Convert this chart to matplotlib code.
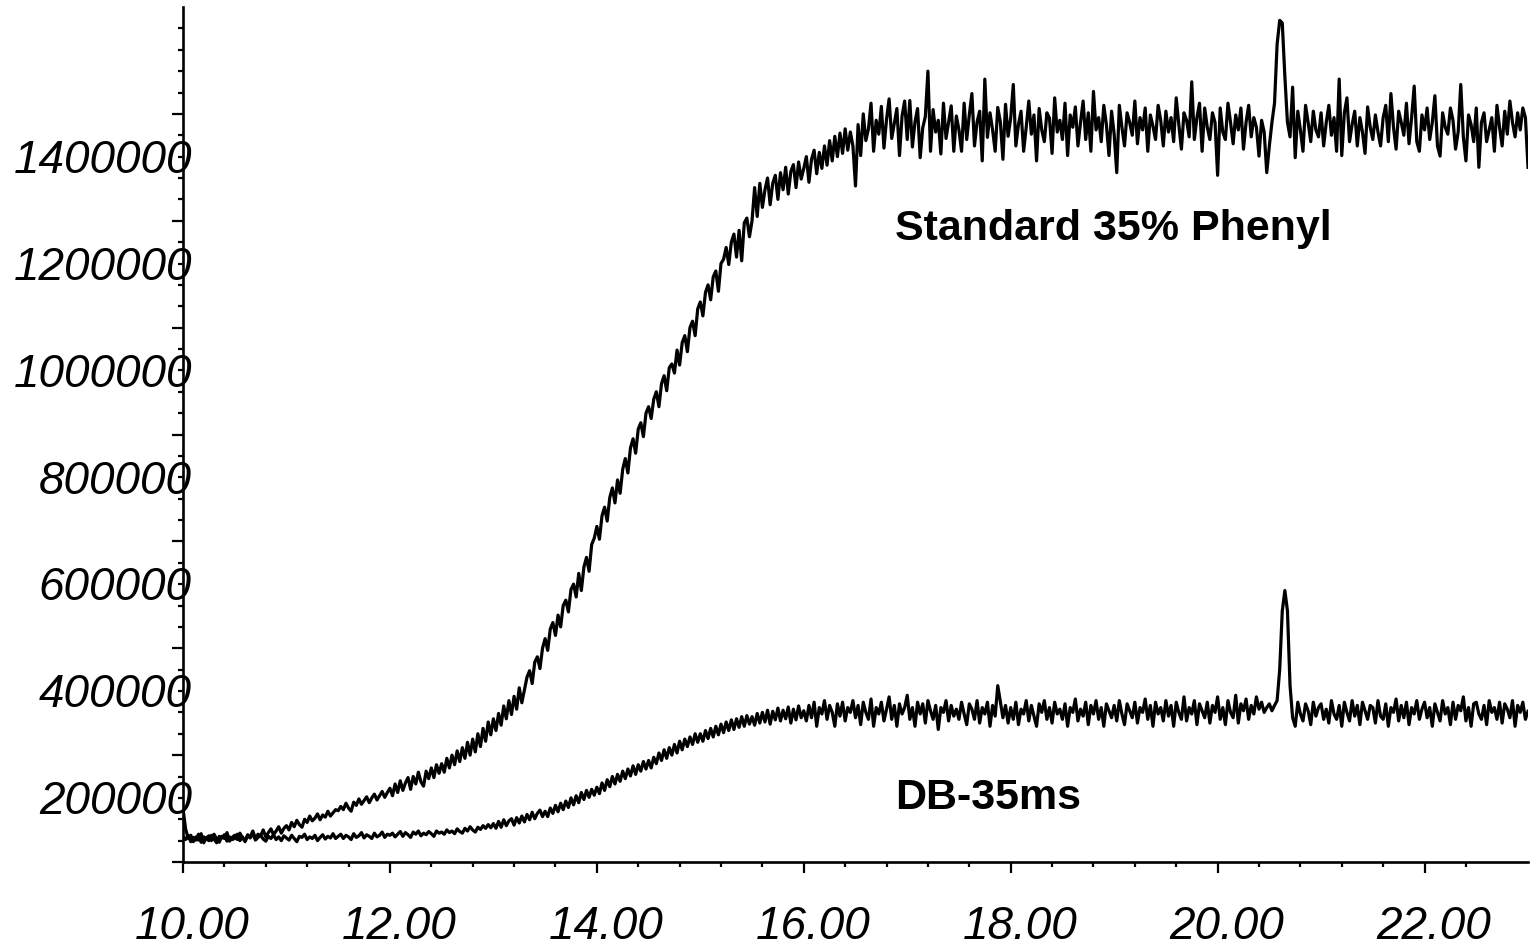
import numpy as np
import matplotlib
matplotlib.use("Agg")
import matplotlib.pyplot as plt
from matplotlib.transforms import ScaledTranslation

# === DATA (abundance in thousands of counts, one sample every 0.025 min from 10.00) ===
T_START = 10.0
T_STEP = 0.025

# rows of 20 samples = 0.5 min each
standard_35_phenyl_k = [
    100, 62, 44, 50, 38, 47, 41, 53, 36, 45, 49, 40, 52, 43, 37, 48, 44, 55, 39, 46,
    50, 42, 54, 45, 40, 51, 47, 58, 44, 52, 49, 60, 47, 55, 62, 51, 58, 66, 54, 63,
    68, 60, 74, 66, 78, 70, 65, 80, 74, 86, 77, 82, 90, 79, 88, 84, 95, 86, 92, 98,
    96, 104, 98, 110, 101, 95, 112, 106, 118, 108, 115, 122, 111, 120, 127, 116, 124, 132, 121, 130,
    138, 124, 146, 130, 152, 134, 148, 158, 136, 160, 146, 168, 150, 142, 170, 156, 176, 158, 182, 166,
    184, 168, 194, 176, 200, 182, 208, 188, 214, 194, 224, 200, 230, 206, 240, 216, 250, 226, 262, 238,
    268, 246, 278, 256, 292, 268, 302, 276, 310, 286, 326, 298, 322, 346, 358, 334, 374, 384, 362, 400,
    418, 396, 436, 448, 424, 462, 440, 480, 490, 468, 510, 520, 496, 540, 508, 552, 570, 544, 594, 606,
    628, 604, 648, 664, 638, 682, 700, 672, 715, 690, 735, 755, 728, 775, 792, 765, 810, 822, 796, 840,
    852, 830, 866, 880, 852, 895, 910, 882, 925, 932, 915, 958, 930, 972, 985, 955, 1000, 1012, 985, 1035,
    1048, 1022, 1066, 1080, 1052, 1095, 1106, 1068, 1120, 1128, 1150, 1118, 1160, 1175, 1132, 1182, 1125, 1196, 1205, 1170,
    1200, 1262, 1208, 1270, 1225, 1258, 1280, 1230, 1270, 1285, 1240, 1290, 1258, 1300, 1250, 1292, 1305, 1262, 1310, 1278,
    1298, 1320, 1272, 1315, 1332, 1288, 1328, 1298, 1340, 1304, 1350, 1312, 1358, 1320, 1364, 1326, 1372, 1332, 1366, 1340,
    1265, 1380, 1322, 1400, 1350, 1372, 1420, 1330, 1388, 1362, 1414, 1336, 1390, 1428, 1354, 1382, 1410, 1322, 1396, 1424,
    1352, 1425, 1338, 1385, 1410, 1318, 1374, 1395, 1480, 1330, 1408, 1366, 1388, 1325, 1420, 1354, 1384, 1415, 1330, 1396,
    1370, 1330, 1420, 1352, 1398, 1438, 1340, 1385, 1405, 1312, 1465, 1356, 1402, 1370, 1330, 1412, 1385, 1315, 1418, 1358,
    1392, 1455, 1340, 1380, 1405, 1330, 1375, 1424, 1362, 1398, 1312, 1410, 1370, 1348, 1402, 1392, 1326, 1430, 1366, 1388,
    1352, 1420, 1322, 1398, 1375, 1413, 1340, 1384, 1424, 1352, 1402, 1330, 1442, 1370, 1393, 1348, 1416, 1380, 1322, 1405,
    1362, 1290, 1416, 1375, 1340, 1402, 1384, 1360, 1424, 1344, 1393, 1370, 1411, 1330, 1398, 1377, 1352, 1416, 1388, 1340,
    1405, 1366, 1393, 1348, 1430, 1380, 1334, 1402, 1388, 1357, 1460, 1352, 1393, 1420, 1330, 1411, 1375, 1352, 1402, 1384,
    1285, 1411, 1366, 1352, 1420, 1384, 1344, 1398, 1370, 1411, 1334, 1384, 1416, 1357, 1393, 1375, 1321, 1388, 1366, 1290,
    1340, 1384, 1420, 1530, 1575, 1570, 1470, 1384, 1357, 1450, 1318, 1405, 1370, 1330, 1416, 1384, 1348, 1405, 1370, 1357,
    1402, 1340, 1384, 1416, 1360, 1393, 1330, 1465, 1322, 1402, 1430, 1348, 1380, 1405, 1340, 1393, 1366, 1326, 1413, 1375,
    1352, 1398, 1366, 1340, 1393, 1416, 1348, 1438, 1375, 1334, 1405, 1384, 1360, 1420, 1344, 1393, 1452, 1348, 1330, 1398,
    1370, 1411, 1352, 1384, 1434, 1340, 1321, 1402, 1375, 1362, 1411, 1388, 1334, 1366, 1455, 1357, 1312, 1398, 1380, 1348,
    1411, 1300, 1384, 1402, 1348, 1370, 1393, 1330, 1416, 1375, 1340, 1405, 1362, 1424, 1384, 1357, 1402, 1370, 1411, 1393,
    1300,
]

db_35ms_k = [
    48, 42, 50, 38, 46, 41, 52, 37, 47, 44, 40, 50, 43, 36, 48, 45, 51, 39, 47, 42,
    44, 52, 40, 47, 38, 49, 45, 53, 41, 46, 50, 43, 39, 48, 44, 51, 42, 47, 40, 49,
    45, 41, 50, 44, 38, 48, 46, 52, 42, 47, 44, 50, 40, 46, 51, 43, 48, 45, 53, 44,
    48, 52, 44, 50, 47, 42, 53, 46, 49, 55, 45, 51, 48, 44, 54, 47, 50, 56, 46, 52,
    50, 54, 47, 52, 57, 48, 55, 51, 46, 56, 52, 58, 49, 54, 51, 57, 53, 48, 58, 54,
    56, 52, 60, 55, 58, 53, 62, 57, 54, 63, 58, 66, 60, 56, 65, 61, 68, 63, 70, 64,
    72, 63, 76, 65, 79, 68, 77, 81, 69, 83, 73, 86, 75, 89, 79, 93, 81, 91, 97, 85,
    95, 85, 101, 91, 106, 94, 110, 98, 114, 102, 120, 107, 124, 111, 130, 117, 134, 121, 136, 125,
    140, 128, 148, 134, 154, 141, 160, 146, 164, 151, 170, 156, 174, 161, 180, 164, 182, 170, 188, 174,
    190, 176, 196, 184, 204, 190, 210, 194, 214, 200, 220, 204, 226, 210, 230, 216, 234, 220, 240, 224,
    240, 226, 246, 231, 250, 234, 254, 238, 258, 242, 262, 246, 266, 248, 268, 252, 272, 254, 274, 258,
    272, 256, 278, 260, 280, 262, 284, 258, 282, 266, 288, 264, 284, 268, 290, 260, 286, 266, 292, 270,
    283, 264, 293, 270, 299, 254, 289, 277, 302, 267, 293, 280, 254, 296, 273, 299, 264, 289, 280, 302,
    270, 293, 257, 299, 280, 267, 305, 254, 289, 277, 299, 264, 286, 309, 267, 293, 254, 296, 277, 289,
    312, 267, 289, 254, 299, 277, 296, 260, 302, 283, 267, 293, 248, 289, 280, 302, 264, 293, 273, 286,
    267, 299, 277, 257, 296, 286, 267, 302, 260, 289, 277, 299, 254, 293, 273, 330, 300, 270, 293, 260,
    289, 267, 299, 257, 286, 277, 302, 264, 293, 273, 254, 296, 280, 302, 267, 289, 260, 299, 277, 286,
    267, 296, 254, 289, 280, 305, 264, 286, 273, 299, 257, 293, 277, 302, 267, 289, 254, 296, 283, 270,
    293, 264, 302, 277, 257, 296, 283, 270, 299, 260, 289, 280, 305, 267, 293, 254, 299, 277, 289, 264,
    302, 273, 293, 254, 299, 280, 267, 309, 264, 289, 277, 302, 257, 296, 283, 270, 299, 260, 293, 280,
    309, 267, 289, 257, 302, 280, 270, 312, 260, 296, 283, 305, 267, 293, 277, 309, 286, 299, 280, 289,
    296, 283, 293, 302, 360, 470, 508, 470, 330, 270, 254, 299, 277, 264, 296, 283, 257, 299, 273, 289,
    296, 267, 286, 260, 302, 277, 267, 293, 254, 299, 280, 264, 302, 273, 293, 257, 299, 283, 267, 293,
    289, 260, 302, 273, 267, 296, 254, 289, 280, 305, 264, 293, 270, 299, 257, 289, 277, 302, 267, 286,
    299, 270, 289, 254, 296, 280, 264, 302, 277, 289, 257, 299, 267, 293, 283, 309, 264, 289, 254, 296,
    299, 277, 267, 293, 257, 302, 280, 289, 267, 299, 260, 296, 286, 270, 302, 254, 293, 280, 299, 267,
    282,
]

x_major = [10, 12, 14, 16, 18, 20, 22]
x_labels = ["10.00", "12.00", "14.00", "16.00", "18.00", "20.00", "22.00"]
y_major = [0, 200000, 400000, 600000, 800000, 1000000, 1200000, 1400000]
y_labels = ["", "200000", "400000", "600000", "800000", "1000000", "1200000", "1400000"]

plt.rcParams["font.family"] = ["Liberation Sans", "DejaVu Sans"]

fig = plt.figure(figsize=(15.36, 9.49), dpi=100)
ax = fig.add_axes([183 / 1536, 87 / 949, 1345 / 1536, 855 / 949])

t = T_START + T_STEP * np.arange(len(standard_35_phenyl_k))
ax.plot(t, np.array(standard_35_phenyl_k) * 1000, color="black", lw=2.3)
ax.plot(t, np.array(db_35ms_k) * 1000, color="black", lw=2.3)

ax.set_xlim(10, 23)
ax.set_ylim(0, 1600000)
for side in ["top", "right"]:
    ax.spines[side].set_visible(False)
for side in ["left", "bottom"]:
    ax.spines[side].set_linewidth(1.9)

ax.set_xticks(x_major)
ax.set_xticklabels(x_labels)
ax.set_xticks([10 + 0.4 * k for k in range(1, 32) if k % 5 != 0], minor=True)
ax.set_yticks(y_major)
ax.set_yticklabels(y_labels)
ax.set_yticks([40000 * k for k in range(1, 40) if k % 5 != 0], minor=True)

ax.tick_params(which="major", length=8, width=1.6, labelsize=33)
ax.tick_params(which="minor", length=3.5, width=1.6)
ax.tick_params(axis="x", which="major", pad=23)
ax.tick_params(axis="y", which="major", pad=0)

for lab in ax.get_xticklabels():
    lab.set_style("italic")
    lab.set_transform(lab.get_transform() + ScaledTranslation(0.09, 0, fig.dpi_scale_trans))
for lab in ax.get_yticklabels():
    lab.set_style("italic")
    lab.set_transform(lab.get_transform() + ScaledTranslation(0.20, -0.42, fig.dpi_scale_trans))

ax.text(16.88, 1185000, "Standard 35% Phenyl", fontsize=31, fontweight="bold",
        ha="left", va="center")
ax.text(16.88, 120000, "DB-35ms", fontsize=31, fontweight="bold",
        ha="left", va="center")

fig.savefig("out.png", dpi=100)
